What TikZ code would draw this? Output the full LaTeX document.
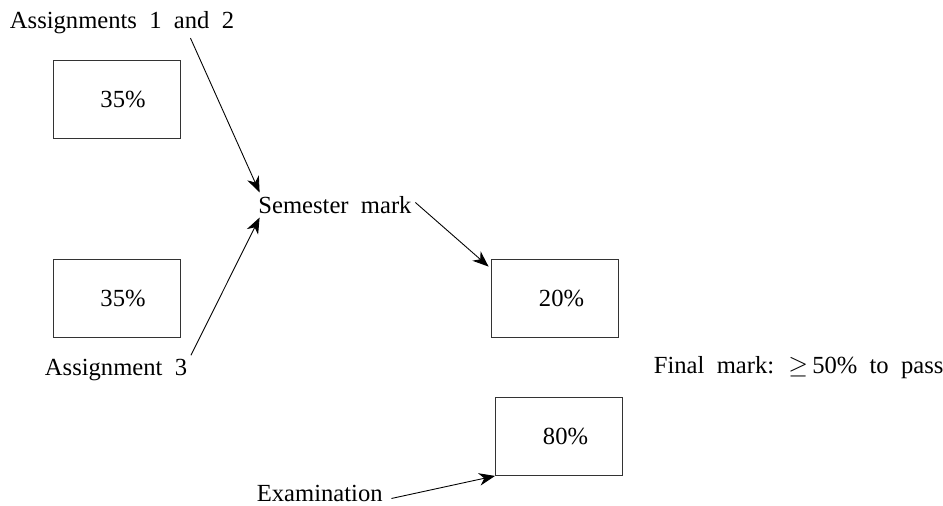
\documentclass[tikz,border=0pt]{standalone}
\usepackage{fontspec}
\setmainfont{Liberation Serif}
\usetikzlibrary{arrows.meta,positioning,calc}
\newcommand{\widewords}{\spaceskip=0.5em\relax}
\tikzset{
  markbox/.style={draw=black!80, line width=0.5pt, minimum width=2.54cm, minimum height=1.56cm,
                  inner sep=0pt, font=\fontsize{14}{17}\selectfont,
                  execute at begin node=\hspace*{0.26cm}},
  lbl/.style={inner sep=2pt, font={\fontsize{14}{17}\selectfont\widewords}},
  arr/.style={-{Stealth[length=3.2mm, width=2.5mm, inset=1mm]}, line width=0.5pt}}
\begin{document}
\begin{tikzpicture}
  \useasboundingbox (0,0) rectangle (18.86,10.1);
  \node[lbl] (asg12) at (2.44,9.64) {Assignments 1 and 2};
  \node[markbox] (box1) at (2.33,8.12) {35\%};
  \node[markbox] (box2) at (2.33,4.13) {35\%};
  \node[lbl] (asg3) at (2.32,2.70) {Assignment 3};
  \node[lbl] (sem) at (6.70,6.00) {Semester mark};
  \node[markbox] (box20) at (11.10,4.13) {20\%};
  \node[markbox] (box80) at (11.18,1.37) {80\%};
  \node[lbl, anchor=west] (final) at (13.0,2.74) {Final mark: $\geq$\,50\% to pass};
  \node[lbl, anchor=base west] (exam) at (5.06,0.07) {Examination};
  % semester mark feeds the 20% part
  \draw[arr] ([xshift=-0.95cm]asg12.south east) -- ([xshift=0.1cm]sem.north west);
  \draw[arr] (asg3.north east) -- ([xshift=0.1cm]sem.south west);
  \draw[arr] ([yshift=0.05cm]sem.east) -- ([xshift=-0.05cm,yshift=-0.15cm]box20.north west);
  \draw[arr] ([xshift=0.1cm,yshift=-0.1cm]exam.east) -- (box80.south west);
\end{tikzpicture}
\end{document}
